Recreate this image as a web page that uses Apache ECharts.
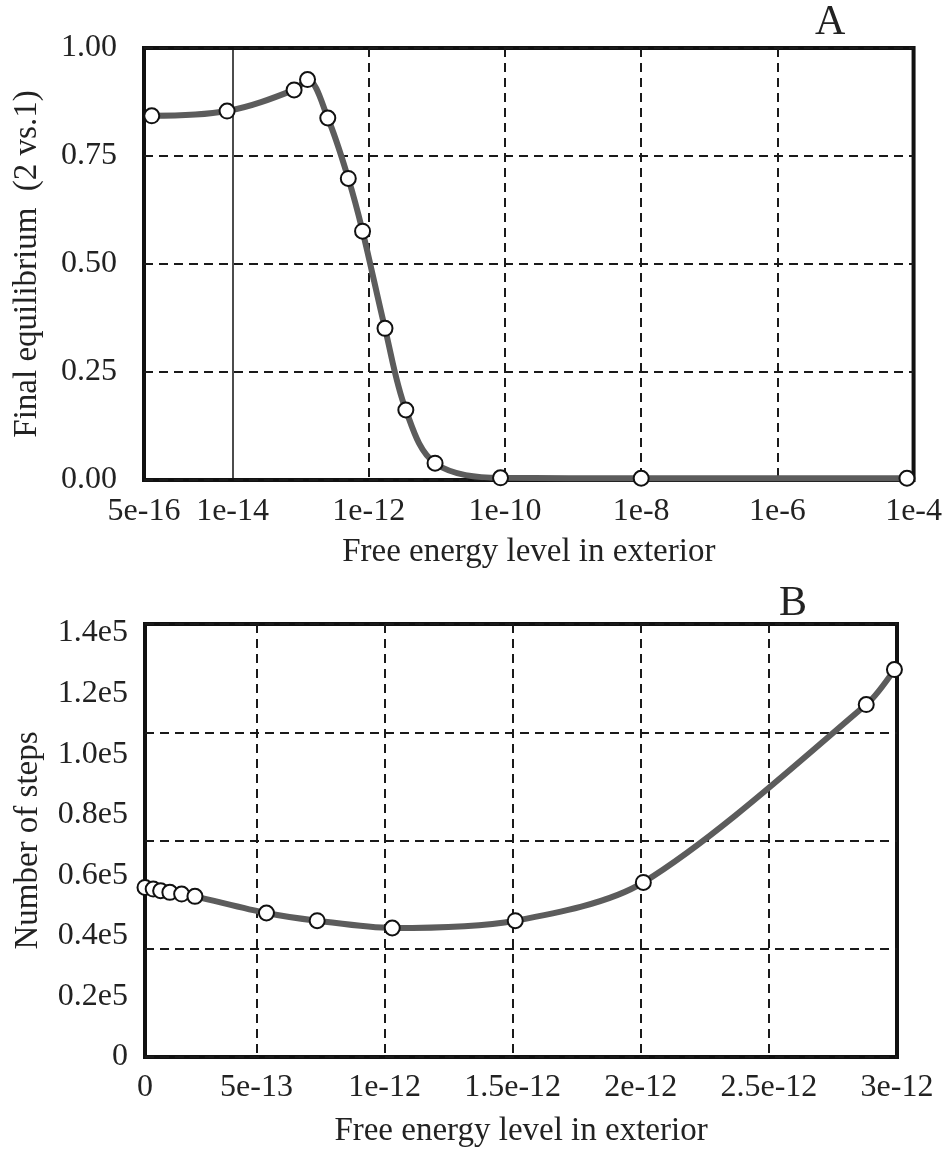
<!DOCTYPE html>
<html>
<head>
<meta charset="utf-8">
<script src="https://cdn.jsdelivr.net/npm/echarts@6.0.0/dist/echarts.min.js"></script>
<style>
  html, body { margin: 0; padding: 0; background: #fff; }
  #chart { width: 945px; height: 1149px; }
</style>
</head>
<body>
<div id="chart"></div>
<script>
// panel A - final equilibrium vs free energy (log x)
var energyA = [6.5e-16, 8.3e-15, 8.0e-14, 1.26e-13, 2.5e-13, 5.0e-13, 8.1e-13, 1.73e-12, 3.5e-12, 9.4e-12, 8.6e-11, 1e-8, 8e-5];
var equilA = [0.843, 0.854, 0.903, 0.927, 0.838, 0.698, 0.576, 0.351, 0.162, 0.039, 0.005, 0.004, 0.004];
var xLabelsA = [5e-16, 1e-14, 1e-12, 1e-10, 1e-8, 1e-6, 1e-4];
var xGridA = [1e-12, 1e-10, 1e-8, 1e-6];
var xSolidA = [1e-14];
var yLabelsA = [0, 0.25, 0.5, 0.75, 1];

// panel B - number of steps vs free energy (linear x)
var energyB = [6.5e-14, 9.7e-14, 1.26e-13, 1.62e-13, 2.08e-13, 2.6e-13, 5.39e-13, 7.37e-13, 1.03e-12, 1.51e-12, 2.01e-12, 2.88e-12, 2.99e-12];
var stepsB = [56000, 55460, 54900, 54370, 53800, 53050, 47550, 45010, 42600, 45010, 57660, 116400, 127940];
var xLabelsB = [6.5e-14, 5e-13, 1e-12, 1.5e-12, 2e-12, 2.5e-12, 3e-12];
var xGridB = [5e-13, 1e-12, 1.5e-12, 2e-12, 2.5e-12];
var yLabelsB = [0, 20000, 40000, 60000, 80000, 100000, 120000, 140000];

var font = "'Liberation Serif', 'DejaVu Serif', serif";
var nameTxt = { fontFamily: font, fontSize: 33, color: '#222' };
var dash = { color: '#1a1a1a', width: 2, type: [9, 6] };

function pairs(xs, ys) {
  return xs.map(function (x, i) { return [x, ys[i]]; });
}

function labelStyle(extra) {
  return Object.assign({ fontFamily: font, fontSize: 32, color: '#222' }, extra);
}

var chart = echarts.init(document.getElementById('chart'));
chart.setOption({
  animation: false,
  title: [
    { text: 'A', left: 810, top: -3, textStyle: { fontFamily: font, fontSize: 42, fontWeight: 'normal', color: '#222' } },
    { text: 'B', left: 774, top: 578, textStyle: { fontFamily: font, fontSize: 42, fontWeight: 'normal', color: '#222' } }
  ],
  grid: [
    { left: 144, right: 31, top: 48, height: 432, show: true, borderColor: '#111', borderWidth: 4 },
    { left: 145, right: 48, top: 624, height: 434, show: true, borderColor: '#111', borderWidth: 4 }
  ],
  xAxis: [
    {
      gridIndex: 0, type: 'log', logBase: 10, min: 5e-16, max: 1e-4,
      name: 'Free energy level in exterior', nameLocation: 'middle', nameGap: 56,
      nameTextStyle: nameTxt,
      axisLine: { show: false },
      axisTick: { show: false, customValues: xGridA },
      axisLabel: labelStyle({
        customValues: xLabelsA, margin: 16,
        formatter: function (v) { return Number(v).toExponential(); }
      }),
      splitLine: { show: true, lineStyle: dash }
    },
    {
      gridIndex: 1, type: 'value', min: 6.5e-14, max: 3e-12,
      name: 'Free energy level in exterior', nameLocation: 'middle', nameGap: 58,
      nameTextStyle: nameTxt,
      axisLine: { show: false },
      axisTick: { show: false, customValues: xGridB },
      axisLabel: labelStyle({
        customValues: xLabelsB, margin: 15,
        formatter: function (v) { return v < 1e-13 ? '0' : Number(v).toExponential(); }
      }),
      splitLine: { show: true, lineStyle: dash }
    },
    {
      // solid reference line at 1e-14 in panel A
      gridIndex: 0, type: 'log', logBase: 10, min: 5e-16, max: 1e-4,
      axisLine: { show: false },
      axisTick: { show: false, customValues: xSolidA },
      axisLabel: { show: false },
      splitLine: { show: true, lineStyle: { color: '#111', width: 1.5, type: 'solid' } }
    }
  ],
  yAxis: [
    {
      gridIndex: 0, type: 'value', min: 0, max: 1, interval: 0.25,
      name: 'Final equilibrium  (2 vs.1)', nameLocation: 'middle', nameGap: 100,
      nameTextStyle: nameTxt,
      axisLine: { show: false },
      axisTick: { show: false },
      axisLabel: labelStyle({
        customValues: yLabelsA, margin: 27,
        formatter: function (v) { return Number(v).toFixed(2); }
      }),
      splitLine: { show: true, lineStyle: dash }
    },
    {
      gridIndex: 1, type: 'value', min: 0, max: 143000, interval: 35750,
      name: 'Number of steps', nameLocation: 'middle', nameGap: 100,
      nameTextStyle: nameTxt,
      axisLine: { show: false },
      axisTick: { show: false },
      axisLabel: labelStyle({
        customValues: yLabelsB, margin: 17,
        formatter: function (v) { return v === 0 ? '0' : (v / 1e5).toFixed(1) + 'e5'; }
      }),
      splitLine: { show: true, lineStyle: dash }
    }
  ],
  series: [
    {
      type: 'line', xAxisIndex: 0, yAxisIndex: 0, clip: false, smooth: 0.35,
      data: pairs(energyA, equilA),
      symbol: 'circle', symbolSize: 15,
      lineStyle: { color: '#5c5c5c', width: 6 },
      itemStyle: { color: '#fff', borderColor: '#111', borderWidth: 2 }
    },
    {
      type: 'line', xAxisIndex: 1, yAxisIndex: 1, clip: false, smooth: 0.3,
      data: pairs(energyB, stepsB),
      symbol: 'circle', symbolSize: 15,
      lineStyle: { color: '#5c5c5c', width: 6 },
      itemStyle: { color: '#fff', borderColor: '#111', borderWidth: 2 }
    }
  ]
});
</script>
</body>
</html>
